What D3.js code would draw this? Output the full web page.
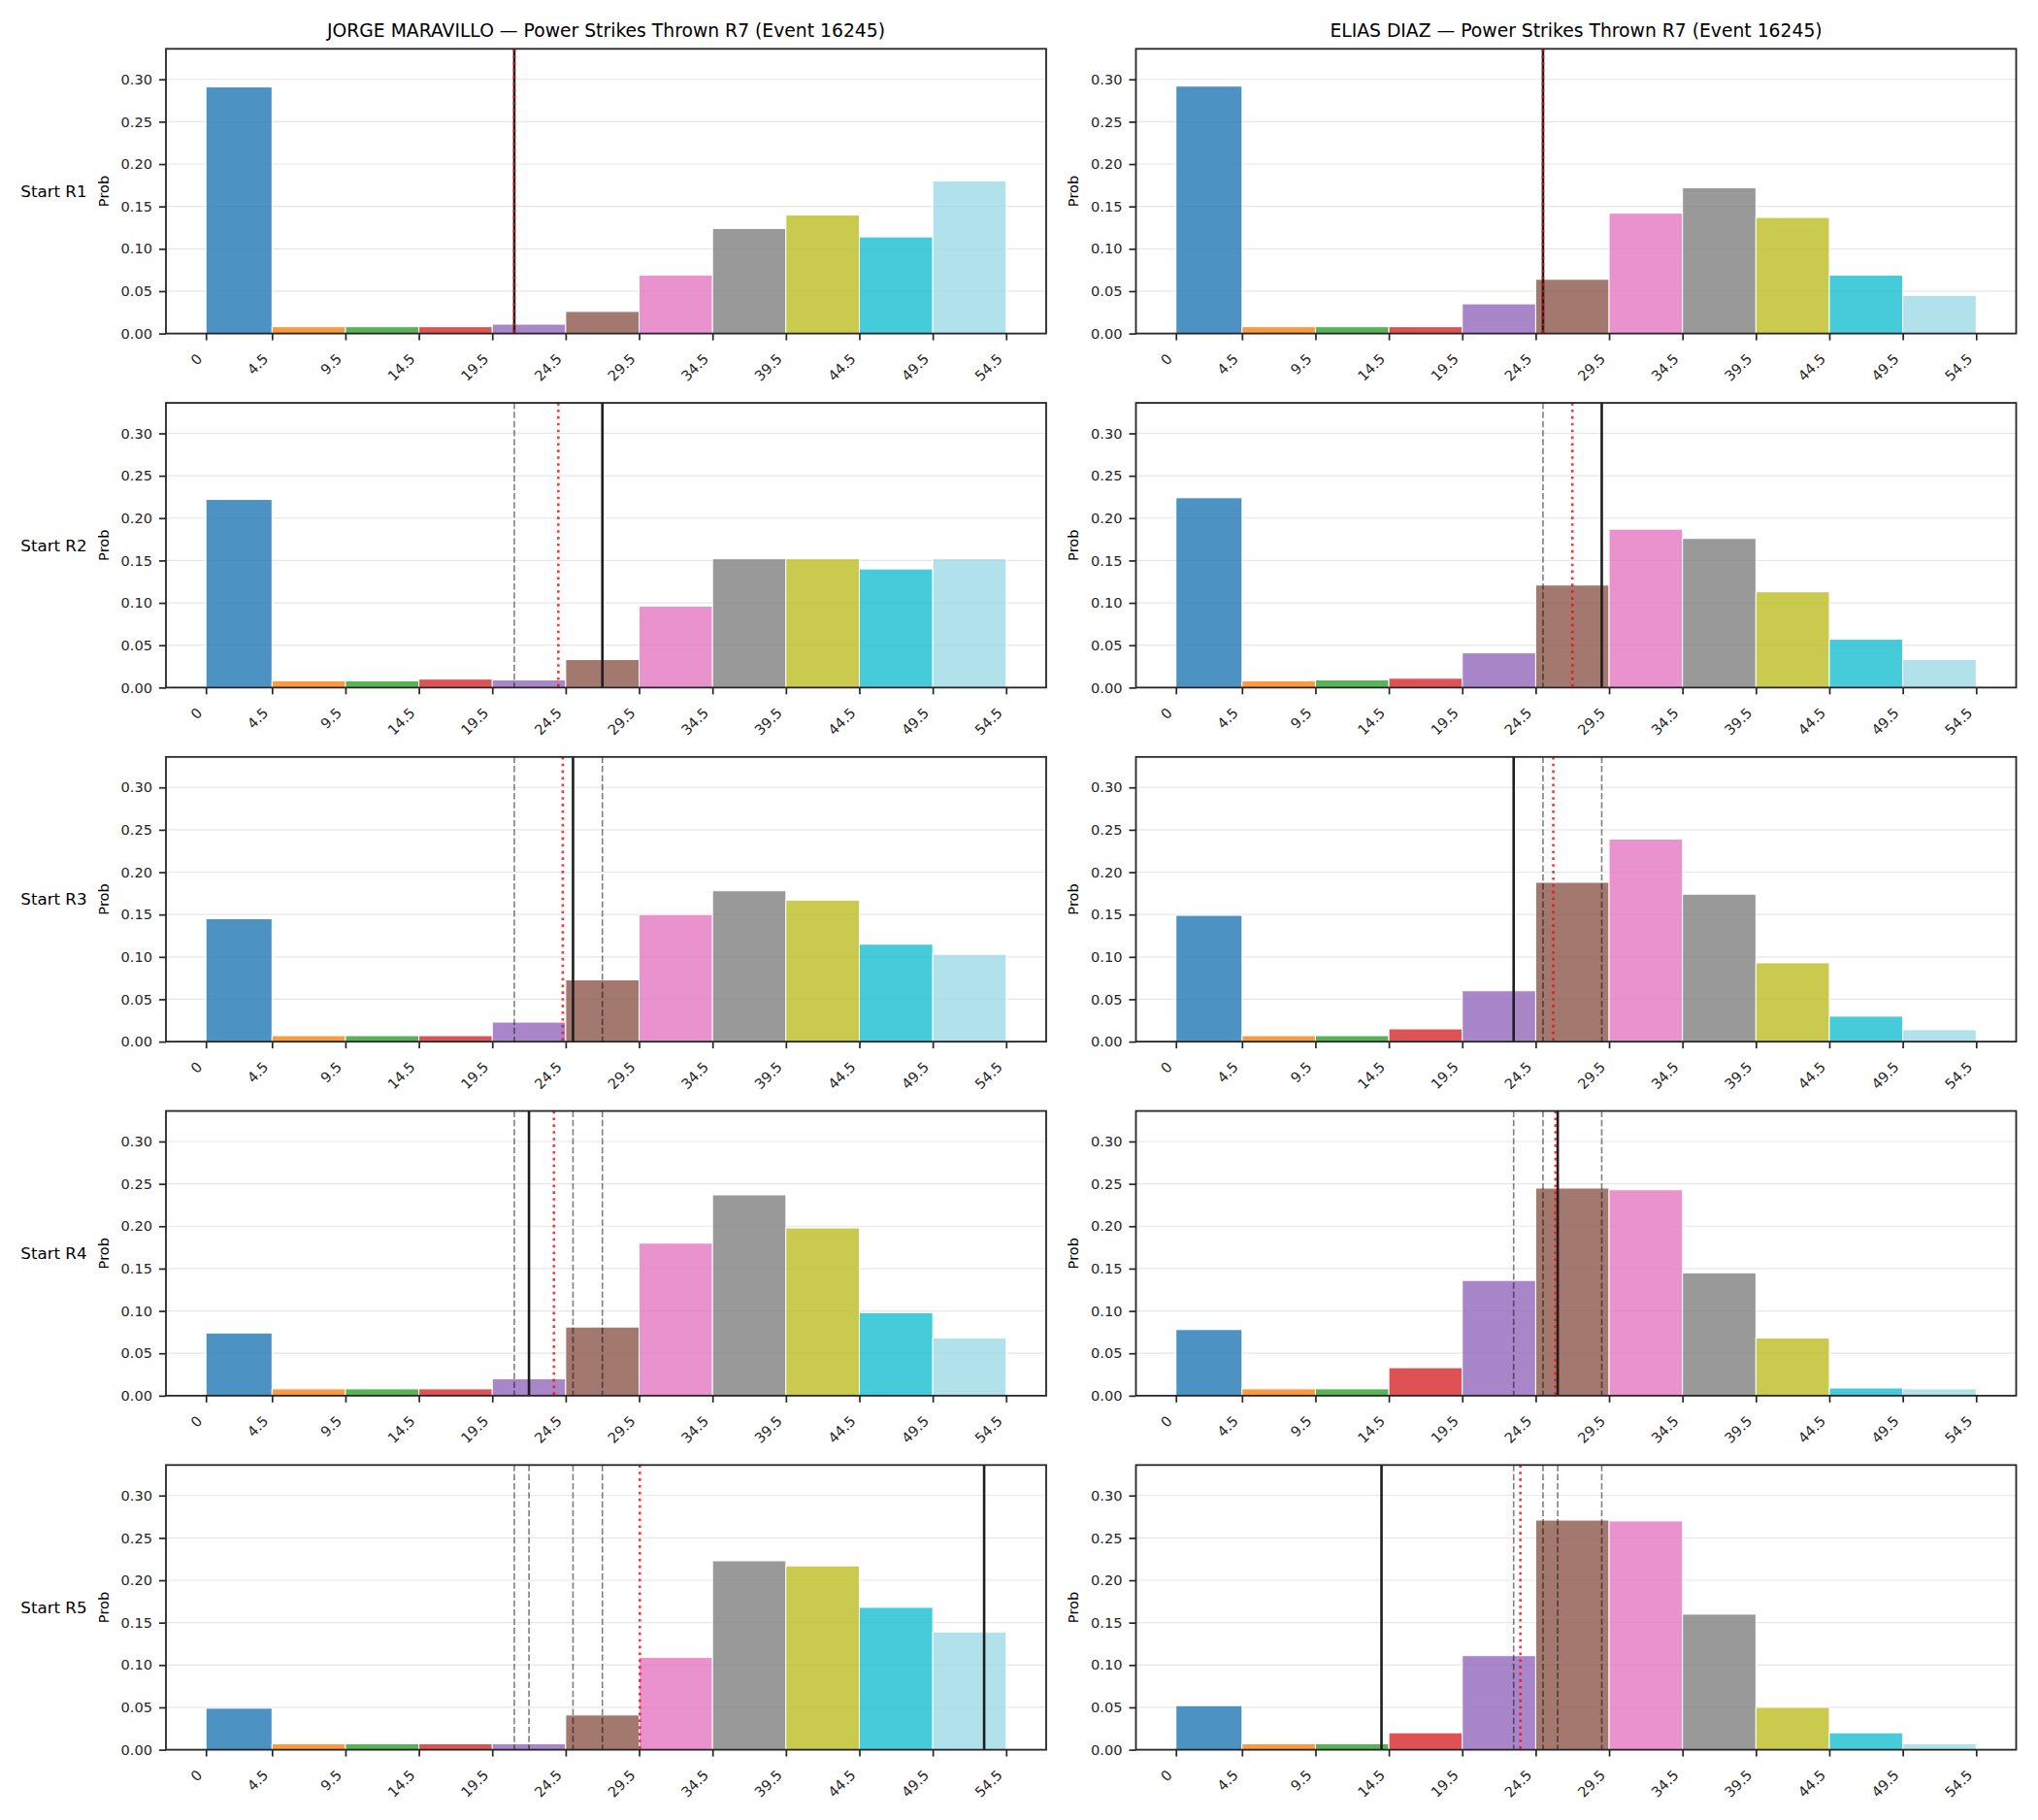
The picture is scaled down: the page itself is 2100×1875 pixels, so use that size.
<!DOCTYPE html>
<html>
<head>
<meta charset="utf-8">
<script src="https://cdn.jsdelivr.net/npm/d3@7"></script>
<style>
  body { margin: 0; background: #fff; }
  svg { display: block; font-family: "DejaVu Sans", sans-serif; }
</style>
</head>
<body>
<div id="chart"></div>
<script>
// bins of strikes thrown, shared by every panel
const binEdges = [0, 4.5, 9.5, 14.5, 19.5, 24.5, 29.5, 34.5, 39.5, 44.5, 49.5, 54.5];
const xTickLabels = ["0", "4.5", "9.5", "14.5", "19.5", "24.5", "29.5", "34.5", "39.5", "44.5", "49.5", "54.5"];
const yTicks = [0, 0.05, 0.10, 0.15, 0.20, 0.25, 0.30];

const rounds = ["Start R1", "Start R2", "Start R3", "Start R4", "Start R5"];
const fighters = ["JORGE MARAVILLO", "ELIAS DIAZ"];
const titleSuffix = " \u2014 Power Strikes Thrown R7 (Event 16245)";

// probability per bin, one row per starting round
const maravilloProbs = [
  [0.291, 0.008, 0.008, 0.008, 0.011, 0.026, 0.069, 0.124, 0.140, 0.114, 0.180],
  [0.222, 0.008, 0.008, 0.010, 0.009, 0.033, 0.096, 0.152, 0.152, 0.140, 0.152],
  [0.145, 0.007, 0.007, 0.007, 0.023, 0.073, 0.150, 0.178, 0.167, 0.115, 0.103],
  [0.074, 0.008, 0.008, 0.008, 0.020, 0.081, 0.180, 0.237, 0.198, 0.098, 0.068],
  [0.049, 0.007, 0.007, 0.007, 0.007, 0.041, 0.109, 0.223, 0.217, 0.168, 0.139]
];
const diazProbs = [
  [0.292, 0.008, 0.008, 0.008, 0.035, 0.064, 0.142, 0.172, 0.137, 0.069, 0.045],
  [0.224, 0.008, 0.009, 0.011, 0.041, 0.121, 0.187, 0.176, 0.113, 0.057, 0.033],
  [0.149, 0.007, 0.007, 0.015, 0.060, 0.188, 0.239, 0.174, 0.093, 0.030, 0.014],
  [0.078, 0.008, 0.008, 0.033, 0.136, 0.245, 0.243, 0.145, 0.068, 0.009, 0.008],
  [0.052, 0.007, 0.007, 0.020, 0.111, 0.271, 0.270, 0.160, 0.050, 0.020, 0.007]
];

// solid line = actual count after that round, dotted = projected mean;
// dashed lines repeat the earlier rounds' actual counts
const maravilloActual = [21, 27, 25, 22, 53];
const maravilloMean = [21, 24.0, 24.3, 23.7, 29.55];
const diazActual = [25, 29, 23, 26, 14];
const diazMean = [25, 27.0, 25.7, 25.85, 23.46];

const binColors = ["#1f77b4", "#ff7f0e", "#2ca02c", "#d62728", "#9467bd", "#8c564b",
                   "#e377c2", "#7f7f7f", "#bcbd22", "#17becf", "#9edae5"];

const panels = [
  { probs: maravilloProbs, actual: maravilloActual, mean: maravilloMean },
  { probs: diazProbs, actual: diazActual, mean: diazMean }
];

const width = 2100;
const height = 1875;
const colLeft = [171, 1170.5];
const axW = 907;
const rowTop = 50.3;
const rowStep = 364.75;
const axH = 293.3;
const ink = "#262626";

const svg = d3.select("#chart")
  .append("svg")
  .attr("width", width)
  .attr("height", height)
  .attr("viewBox", [0, 0, width, height]);

const x = d3.scaleLinear().domain([-2.725, 57.225]).range([0, axW]);
const y = d3.scaleLinear().domain([0, 0.336]).range([axH, 0]);

panels.forEach((p, c) => {
  // column title
  svg.append("text")
    .attr("x", colLeft[c] + axW / 2)
    .attr("y", 37.5)
    .attr("text-anchor", "middle")
    .attr("font-size", "18.75px")
    .attr("fill", "#000")
    .text(fighters[c] + titleSuffix);

  rounds.forEach((r, i) => {
    const g = svg.append("g")
      .attr("transform", `translate(${colLeft[c]},${rowTop + i * rowStep})`);

    g.append("g")
      .selectAll("line")
      .data(yTicks)
      .join("line")
      .attr("x1", 0).attr("x2", axW)
      .attr("y1", d => y(d)).attr("y2", d => y(d))
      .attr("stroke", "#b0b0b0")
      .attr("stroke-opacity", 0.3)
      .attr("stroke-width", 1.2);

    g.append("g")
      .selectAll("rect")
      .data(p.probs[i])
      .join("rect")
      .attr("x", (d, k) => x(binEdges[k]))
      .attr("width", (d, k) => x(binEdges[k + 1]) - x(binEdges[k]))
      .attr("y", d => y(d))
      .attr("height", d => y(0) - y(d))
      .attr("fill", (d, k) => binColors[k])
      .attr("fill-opacity", 0.8)
      .attr("stroke", "#fff")
      .attr("stroke-width", 1);

    const vline = (v) => g.append("line")
      .attr("x1", x(v)).attr("x2", x(v))
      .attr("y1", 0).attr("y2", axH);

    p.actual.slice(0, i).forEach(v => {
      vline(v)
        .attr("stroke", "#000")
        .attr("stroke-opacity", 0.5)
        .attr("stroke-width", 1.6)
        .attr("stroke-dasharray", "6.5,2.8");
    });
    vline(p.actual[i])
      .attr("stroke", "#1e1e1e")
      .attr("stroke-width", 2.6);
    vline(p.mean[i])
      .attr("stroke", "red")
      .attr("stroke-opacity", 0.8)
      .attr("stroke-width", 2.6)
      .attr("stroke-dasharray", "2.6,4.3");

    g.append("rect")
      .attr("width", axW)
      .attr("height", axH)
      .attr("fill", "none")
      .attr("stroke", ink)
      .attr("stroke-width", 1.8);

    const yAxis = g.append("g")
      .call(d3.axisLeft(y).tickValues(yTicks).tickFormat(d3.format(".2f")).tickSize(7).tickPadding(7));
    yAxis.select(".domain").remove();
    yAxis.selectAll("line").attr("stroke", ink).attr("stroke-width", 1.7);
    yAxis.selectAll("text").attr("font-size", "14.58px").attr("fill", ink).attr("font-family", "DejaVu Sans");

    const xAxis = g.append("g")
      .attr("transform", `translate(0,${axH})`)
      .call(d3.axisBottom(x).tickValues(binEdges).tickFormat((d, k) => xTickLabels[k]).tickSize(7));
    xAxis.select(".domain").remove();
    xAxis.selectAll("line").attr("stroke", ink).attr("stroke-width", 1.7);
    xAxis.selectAll("text")
      .attr("font-size", "14.58px")
      .attr("fill", ink)
      .attr("font-family", "DejaVu Sans")
      .attr("y", 0)
      .attr("dy", 0)
      .attr("text-anchor", "end")
      .attr("transform", "translate(-3.5,27) rotate(-45)");

    g.append("text")
      .attr("transform", `translate(-59.1,${axH / 2}) rotate(-90)`)
      .attr("text-anchor", "middle")
      .attr("font-size", "14.58px")
      .attr("fill", "#000")
      .text("Prob");

    if (c === 0) {
      g.append("text")
        .attr("x", -81.5)
        .attr("y", axH / 2)
        .attr("dy", "0.35em")
        .attr("text-anchor", "end")
        .attr("font-size", "16.67px")
        .attr("fill", "#000")
        .text(r);
    }
  });
});
</script>
</body>
</html>
